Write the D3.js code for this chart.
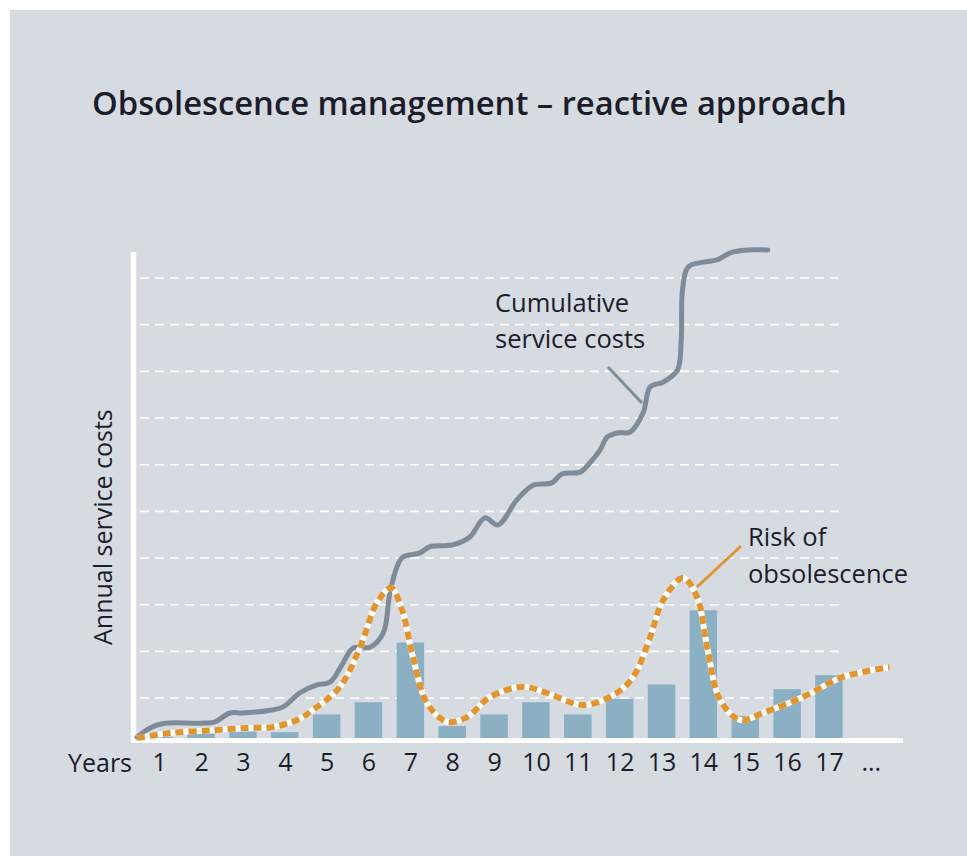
<!DOCTYPE html>
<html>
<head>
<meta charset="utf-8">
<script src="https://cdn.jsdelivr.net/npm/d3@7"></script>
<style>
  html, body { margin: 0; padding: 0; background: #ffffff; }
  text { font-family: "Open Sans", "Noto Sans", sans-serif; fill: #1c1c2b; }
</style>
</head>
<body>
<div id="chart"></div>
<script>
// x categories (years) and bar heights, in grid units (1 unit = one dashed gridline step)
const years = ["1","2","3","4","5","6","7","8","9","10","11","12","13","14","15","16","17","..."];
const annualCosts = [0.17, 0.24, 0.28, 0.27, 0.65, 0.91, 2.19, 0.40, 0.65, 0.91, 0.65, 0.98, 1.29, 2.88, 0.62, 1.19, 1.49];
const gridValues = [1, 2, 3, 4, 5, 6, 7, 8, 9, 10];

// cumulative service costs curve: [year, value]
const cumulative = [
  [0.47, 0.16], [0.78, 0.36], [1.14, 0.46], [1.97, 0.46], [2.33, 0.49], [2.69, 0.68],
  [3.00, 0.68], [3.65, 0.74], [3.96, 0.81], [4.36, 1.11], [4.77, 1.28], [5.08, 1.34],
  [5.39, 1.75], [5.63, 2.07], [6.04, 2.09], [6.35, 2.39], [6.51, 3.25], [6.68, 3.81],
  [6.82, 4.02], [7.23, 4.11], [7.46, 4.24], [8.01, 4.28], [8.42, 4.45], [8.78, 4.86],
  [9.09, 4.71], [9.54, 5.24], [9.93, 5.56], [10.38, 5.61], [10.62, 5.80], [11.05, 5.84],
  [11.29, 6.04], [11.53, 6.31], [11.70, 6.59], [11.94, 6.68], [12.25, 6.70], [12.56, 7.11],
  [12.73, 7.67], [13.04, 7.77], [13.38, 8.03], [13.47, 8.67], [13.50, 9.74], [13.64, 10.24],
  [14.00, 10.34], [14.33, 10.39], [14.64, 10.54], [15.04, 10.60], [15.54, 10.60]
];

// risk of obsolescence curve: [year, value]
const risk = [
  [0.47, 0.14], [1.26, 0.25], [2.29, 0.31], [3.10, 0.36], [3.72, 0.38], [4.29, 0.53],
  [4.77, 0.81], [5.32, 1.24], [5.80, 2.09], [6.20, 3.04], [6.54, 3.36], [6.80, 2.89],
  [7.06, 1.88], [7.40, 0.89], [7.88, 0.49], [8.35, 0.59], [8.90, 1.02], [9.69, 1.24],
  [10.26, 1.11], [11.12, 0.85], [11.84, 1.06], [12.32, 1.45], [12.72, 2.29], [13.04, 3.10],
  [13.51, 3.57], [13.85, 3.16], [14.09, 2.09], [14.40, 0.96], [14.88, 0.53], [15.42, 0.68],
  [16.38, 1.02], [17.33, 1.45], [18.45, 1.66]
];

function draw() {
  const W = 967, H = 856;
  const svg = d3.select("#chart").append("svg")
      .attr("width", W).attr("height", H);

  // grey panel
  svg.append("rect").attr("x", 10).attr("y", 10)
      .attr("width", W - 10).attr("height", H - 10)
      .attr("fill", "#d6dbe2");

  // title, stretched to the reference width
  const title = svg.append("text")
      .attr("x", 92).attr("y", 115)
      .style("font-size", "28px").style("font-weight", 600)
      .text("Obsolescence management \u2013 reactive approach");
  const tl = title.node().getComputedTextLength();
  title.style("font-size", (28 * 755 / tl) + "px");

  const y = d3.scaleLinear().domain([0, 10]).range([744.7, 278]);
  const xCat = d3.scalePoint().domain(years).range([159.2, 870.8]);
  const xLin = d3.scaleLinear().domain([1, 17]).range([159.2, 829]);
  const baseY = y(0.09);
  const barW = 27.5;

  // dashed gridlines
  svg.append("g").selectAll("line")
    .data(gridValues).enter().append("line")
      .attr("x1", 140).attr("x2", 845)
      .attr("y1", d => y(d)).attr("y2", d => y(d))
      .attr("stroke", "#ffffff").attr("stroke-width", 1.6)
      .attr("stroke-dasharray", "9 6");

  // bars
  svg.append("g").selectAll("rect")
    .data(annualCosts).enter().append("rect")
      .attr("x", (d, i) => xCat(years[i]) - barW / 2)
      .attr("width", barW)
      .attr("y", d => y(d))
      .attr("height", d => baseY - y(d))
      .attr("fill", "#8bb0c4");

  // axes lines
  svg.append("line").attr("x1", 133.5).attr("x2", 133.5).attr("y1", 252).attr("y2", 743)
      .attr("stroke", "#ffffff").attr("stroke-width", 5.5);
  svg.append("line").attr("x1", 131).attr("x2", 903).attr("y1", baseY).attr("y2", baseY)
      .attr("stroke", "#ffffff").attr("stroke-width", 5);

  // x tick labels
  const xAxis = svg.append("g")
      .attr("transform", "translate(0," + baseY + ")")
      .call(d3.axisBottom(xCat).tickSize(0).tickPadding(12));
  xAxis.select(".domain").remove();
  xAxis.selectAll("text")
      .attr("dy", null).attr("y", 31)
      .style("font-size", "25px").style("font-family", "\"Open Sans\", sans-serif")
      .attr("fill", "#1c1c2b");

  svg.append("text").attr("x", 68).attr("y", 771.5)
      .style("font-size", "25px").text("Years");

  // y label
  svg.append("text")
      .attr("transform", "translate(112,645) rotate(-90)")
      .style("font-size", "25px").text("Annual service costs");

  const line = d3.line()
      .x(d => xLin(d[0])).y(d => y(d[1]))
      .curve(d3.curveCatmullRom.alpha(0.5));

  // cumulative costs
  svg.append("path").attr("d", line(cumulative))
      .attr("fill", "none").attr("stroke", "#7f8c97")
      .attr("stroke-width", 5).attr("stroke-linecap", "round");

  // risk of obsolescence
  svg.append("path").attr("d", line(risk))
      .attr("fill", "none").attr("stroke", "#ffffff").attr("stroke-width", 6);
  svg.append("path").attr("d", line(risk))
      .attr("fill", "none").attr("stroke", "#e0952f").attr("stroke-width", 6)
      .attr("stroke-dasharray", "8 5");

  // annotations
  svg.append("line").attr("x1", 608).attr("y1", 367).attr("x2", 642).attr("y2", 403)
      .attr("stroke", "#7f8c97").attr("stroke-width", 3);
  svg.append("text").attr("x", 495).attr("y", 312).style("font-size", "25.5px").text("Cumulative");
  svg.append("text").attr("x", 495).attr("y", 348).style("font-size", "25.5px").text("service costs");

  svg.append("line").attr("x1", 697).attr("y1", 587).attr("x2", 741).attr("y2", 546)
      .attr("stroke", "#e0952f").attr("stroke-width", 3);
  svg.append("text").attr("x", 748).attr("y", 546).style("font-size", "25.5px").text("Risk of");
  svg.append("text").attr("x", 748).attr("y", 583).style("font-size", "25.5px").text("obsolescence");
}

window.onload = () => { draw(); };
</script>
</body>
</html>
